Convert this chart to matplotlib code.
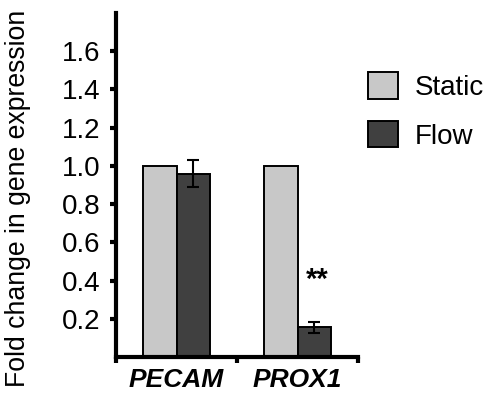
import matplotlib.pyplot as plt
import numpy as np

plt.rcParams['font.family'] = ['Liberation Sans', 'DejaVu Sans']

genes = ['PECAM', 'PROX1']
static = [1.0, 1.0]
flow = [0.96, 0.155]
flow_err = [0.07, 0.027]
sig_y = 0.33
yticks = [0.2, 0.4, 0.6, 0.8, 1.0, 1.2, 1.4, 1.6]

fig = plt.figure(figsize=(4.9, 4.08), dpi=100)
ax = fig.add_axes([0.237, 0.125, 0.494, 0.843])

x = np.arange(len(genes)) + 0.5
w = 0.275
ax.bar(x - w / 2, static, w, color='#c8c8c8', edgecolor='black', linewidth=1.4, label='Static', zorder=2)
ax.bar(x + w / 2, flow, w, color='#404040', edgecolor='black', linewidth=1.4, label='Flow', zorder=2)
ax.errorbar(x + w / 2, flow, yerr=flow_err, fmt='none', ecolor='black', elinewidth=1.5, capsize=4, capthick=1.5, zorder=3)

# significance marker
ax.text(x[1] + w / 2 + 0.02, sig_y, '**', ha='center', va='bottom', fontsize=21, fontweight='bold')

ax.set_xlim(0, 2)
ax.set_ylim(0, 1.8)
ax.set_yticks(yticks)
ax.set_yticklabels([f'{t:.1f}' for t in yticks], fontsize=20)
ax.set_xticks([0, 1, 2])
ax.set_xticklabels([])
for xi, g in zip(x, genes):
    ax.text(xi, -0.06, g, ha='center', va='top', fontsize=19, fontweight='bold', fontstyle='italic')

for s in ['top', 'right']:
    ax.spines[s].set_visible(False)
for s in ['left', 'bottom']:
    ax.spines[s].set_linewidth(3)
ax.tick_params(axis='both', direction='out', length=4, width=3)
ax.tick_params(axis='y', pad=7)

ax.set_ylabel('Fold change in gene expression', fontsize=19.2, va='center')
ax.yaxis.set_label_coords(-0.405, 0.462)

ax.legend(loc='upper left', bbox_to_anchor=(0.996, 0.86), borderaxespad=0, frameon=False, fontsize=20,
          handlelength=1.08, handleheight=1.08, labelspacing=0.72, handletextpad=0.6)

fig.savefig('out.png', dpi=100)
